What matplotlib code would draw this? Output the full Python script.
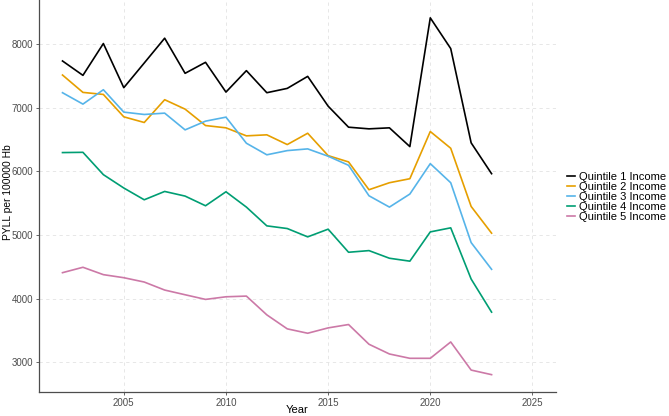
import matplotlib.pyplot as plt
import numpy as np

plt.rcParams['font.family'] = ['Liberation Sans', 'DejaVu Sans']

# Datos (PYLL por 100000 hab.)
years = list(range(2002, 2024))
q1 = [7737, 7511, 8011, 7317, 7705, 8095, 7543, 7716, 7248, 7585, 7238,
      7306, 7495, 7027, 6696, 6670, 6686, 6391, 8415, 7932, 6450, 5965]
q2 = [7516, 7243, 7211, 6859, 6770, 7128, 6980, 6722, 6686, 6560, 6576,
      6423, 6601, 6249, 6150, 5713, 5823, 5886, 6628, 6365, 5450, 5030]
q3 = [7238, 7059, 7285, 6933, 6896, 6917, 6654, 6791, 6854, 6444, 6262,
      6328, 6355, 6240, 6097, 5618, 5440, 5645, 6123, 5823, 4882, 4462]
q4 = [6297, 6301, 5950, 5740, 5555, 5686, 5613, 5461, 5681, 5440, 5145,
      5103, 4972, 5093, 4730, 4756, 4636, 4590, 5050, 5114, 4309, 3789]
q5 = [4409, 4494, 4378, 4330, 4262, 4136, 4062, 3989, 4030, 4041, 3746,
      3526, 3457, 3541, 3594, 3284, 3131, 3063, 3063, 3320, 2878, 2806]

etiquetas = ["Quintile 1 Income", "Quintile 2 Income", "Quintile 3 Income",
             "Quintile 4 Income", "Quintile 5 Income"]
colores = ["#000000", "#E69F00", "#56B4E9", "#009E73", "#CC79A7"]
series = [q1, q2, q3, q4, q5]

fig = plt.figure(figsize=(6.69, 4.16), dpi=100)
ax = fig.add_axes([0.0583, 0.0565, 0.7727, 0.9435])

for s, lab, c in zip(series, etiquetas, colores):
    ax.plot(years, s, color=c, lw=1.2, label=lab)

# límites estilo ggplot (expansión 5%)
ax.set_xlim(2002 - 0.05 * 23, 2025 + 0.05 * 23)
ymin, ymax = 2806, 8415
rng = ymax - ymin
ax.set_ylim(ymin - 0.05 * rng, ymax + 0.05 * rng)
ax.set_xticks([2005, 2010, 2015, 2020, 2025])
ax.set_yticks([3000, 4000, 5000, 6000, 7000, 8000])

ax.grid(True, color='#e3e3e3', ls=(0, (4, 4)), lw=0.6)
ax.set_axisbelow(True)
for sp in ['top', 'right']:
    ax.spines[sp].set_visible(False)
for sp in ['left', 'bottom']:
    ax.spines[sp].set_color('#4d4d4d')
    ax.spines[sp].set_linewidth(0.9)
ax.tick_params(length=2.5, width=0.6, color='#4d4d4d', labelsize=7,
               labelcolor='#4d4d4d', pad=1.5)

ax.set_xlabel('Year', fontsize=8)
ax.xaxis.set_label_coords(0.5, -0.031)
ax.set_ylabel('PYLL per 100000 Hb', fontsize=7.4)
ax.yaxis.set_label_coords(-0.051, 0.51)

fig.legend(loc='center left', bbox_to_anchor=(0.848, 0.526), frameon=False,
           fontsize=8, handlelength=0.7, handletextpad=0.35,
           labelspacing=0.0, borderpad=0, borderaxespad=0)

fig.savefig('out.png', dpi=100)
